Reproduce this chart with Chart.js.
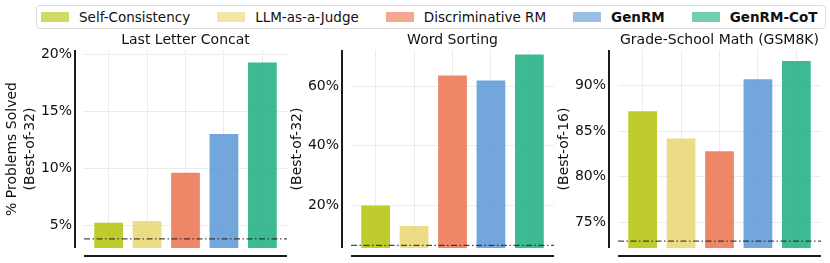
<!DOCTYPE html>
<html>
<head>
<meta charset="utf-8">
<script src="https://cdn.jsdelivr.net/npm/chart.js@4.4.1/dist/chart.umd.min.js"></script>
<style>
  body { margin: 0; background: #fff; font-family: "DejaVu Sans", sans-serif; }
  #page { position: relative; width: 830px; height: 263px; overflow: hidden; }
  #legend {
    position: absolute; left: 36px; top: 5px; width: 790px; height: 24px;
    box-sizing: border-box; border: 1px solid #dcdcdc; border-radius: 4px;
    display: flex; align-items: center; padding-left: 4px;
    font-size: 13.5px; color: #111; white-space: nowrap;
  }
  .item { display: flex; align-items: center; margin-right: 27px; }
  .patch { display: inline-block; width: 28px; height: 10px; margin-right: 10px; }
  .panel { position: absolute; top: 28px; width: 290px; height: 235px; }
</style>
</head>
<body>
<div id="page">
  <div id="legend"></div>
  <div class="panel" style="left:0px"><canvas id="c0" width="290" height="235"></canvas></div>
  <div class="panel" style="left:267px"><canvas id="c1" width="290" height="235"></canvas></div>
  <div class="panel" style="left:534px"><canvas id="c2" width="290" height="235"></canvas></div>
</div>
<script>
//DATA---------------------------------------------------------------
const methods = ["Self-Consistency", "LLM-as-a-Judge", "Discriminative RM", "GenRM", "GenRM-CoT"];
const boldMethods = [false, false, false, true, true];
const methodRgb = [[183, 199, 22], [234, 216, 120], [236, 122, 86], [100, 156, 214], [40, 178, 135]];

const taskTitles = ["Last Letter Concat", "Word Sorting", "Grade-School Math (GSM8K)"];
const yTitles = [["% Problems Solved", "(Best-of-32)"], ["", "(Best-of-32)"], ["", "(Best-of-16)"]];

// % problems solved, one value per method
const lastLetterConcat = [5.3, 5.45, 9.7, 13.1, 19.4];
const wordSorting = [20.3, 13.4, 63.9, 62.2, 70.9];
const gsm8k = [87.3, 84.3, 82.9, 90.8, 92.8];
const taskValues = [lastLetterConcat, wordSorting, gsm8k];

// dash-dot reference line per task
const baselines = [3.8, 6.6, 72.95];

// axis ranges / tick steps
const yMins = [3.0, 5.7, 72.2];
const yMaxs = [20.4, 72.1, 93.9];
const ySteps = [5, 20, 5];
const xMin = -0.64;
const xMax = 4.64;
//-------------------------------------------------------------------

function rgba(c, a) {
  return "rgba(" + c[0] + "," + c[1] + "," + c[2] + "," + a + ")";
}

//LEGEND-------------------------------------------------------------
const legend = document.getElementById("legend");
methods.forEach(function (m, i) {
  const item = document.createElement("div");
  item.className = "item";
  const patch = document.createElement("span");
  patch.className = "patch";
  patch.style.background = rgba(methodRgb[i], 0.65);
  const txt = document.createElement("span");
  txt.textContent = m;
  if (boldMethods[i]) txt.style.fontWeight = "bold";
  item.appendChild(patch);
  item.appendChild(txt);
  legend.appendChild(item);
});
//-------------------------------------------------------------------

//SPINES (offset like seaborn despine)
const spines = {
  id: "spines",
  afterDraw(chart) {
    const { ctx, chartArea } = chart;
    ctx.save();
    ctx.strokeStyle = "#1a1a1a";
    ctx.lineWidth = 2;
    const sx = Math.round(chartArea.left - 9);
    ctx.beginPath();
    ctx.moveTo(sx, chartArea.top);
    ctx.lineTo(sx, chartArea.bottom);
    ctx.stroke();
    const sy = Math.round(chartArea.bottom + 8);
    ctx.beginPath();
    ctx.moveTo(chartArea.left, sy);
    ctx.lineTo(chartArea.right, sy);
    ctx.stroke();
    ctx.restore();
  }
};

//PANELS-------------------------------------------------------------
function panel(k) {
  const values = taskValues[k];
  const data = {
    datasets: [
      {
        type: "line",
        data: [{ x: xMin, y: baselines[k] }, { x: xMax, y: baselines[k] }],
        borderColor: "rgba(30,30,30,0.8)",
        borderWidth: 1.3,
        borderDash: [6, 2.5, 1.5, 2.5],
        pointRadius: 0,
        order: 0,
      },
      {
        type: "bar",
        data: values.map(function (v, i) { return { x: i, y: v }; }),
        backgroundColor: methodRgb.map(function (c) { return rgba(c, 0.9); }),
        borderColor: "rgba(255,255,255,0.55)",
        borderWidth: 1,
        categoryPercentage: 1,
        barPercentage: 0.8,
        order: 1,
      },
    ],
  };
  const config = {
    type: "bar",
    data: data,
    options: {
      responsive: false,
      animation: false,
      layout: { padding: { top: 0, right: 3, bottom: 15, left: 0 } },
      plugins: {
        legend: { display: false },
        tooltip: { enabled: false },
        title: {
          display: true,
          text: taskTitles[k],
          fullSize: false,
          color: "#111",
          font: { family: "DejaVu Sans", size: 14, weight: "normal", lineHeight: 1.2 },
          padding: { top: 4, bottom: 1.2 },
        },
      },
      scales: {
        x: {
          type: "linear",
          min: xMin,
          max: xMax,
          offset: false,
          afterBuildTicks: function (s) { s.ticks = values.map(function (_, i) { return { value: i }; }); },
          afterFit: function (s) { s.height = 0; },
          ticks: { display: false },
          grid: { color: "#ebebeb", lineWidth: 1, drawTicks: false, offset: false },
          border: { display: false },
        },
        y: {
          min: yMins[k],
          max: yMaxs[k],
          afterFit: function (s) { s.width = 84; s.paddingTop = 0; s.paddingBottom = 0; },
          ticks: {
            stepSize: ySteps[k],
            includeBounds: false,
            padding: 12,
            color: "#111",
            font: { family: "DejaVu Sans", size: 14 },
            callback: function (v) { return v + "%"; },
          },
          grid: { color: "#ebebeb", lineWidth: 1, drawTicks: false },
          border: { display: false },
          title: {
            display: true,
            text: yTitles[k],
            color: "#111",
            font: { family: "DejaVu Sans", size: 14, lineHeight: 1.25 },
            padding: { top: 4, bottom: 0 },
          },
        },
      },
    },
    plugins: [spines],
  };
  return new Chart(document.getElementById("c" + k), config);
}

const charts = [0, 1, 2].map(panel);
//-------------------------------------------------------------------
</script>
</body>
</html>
